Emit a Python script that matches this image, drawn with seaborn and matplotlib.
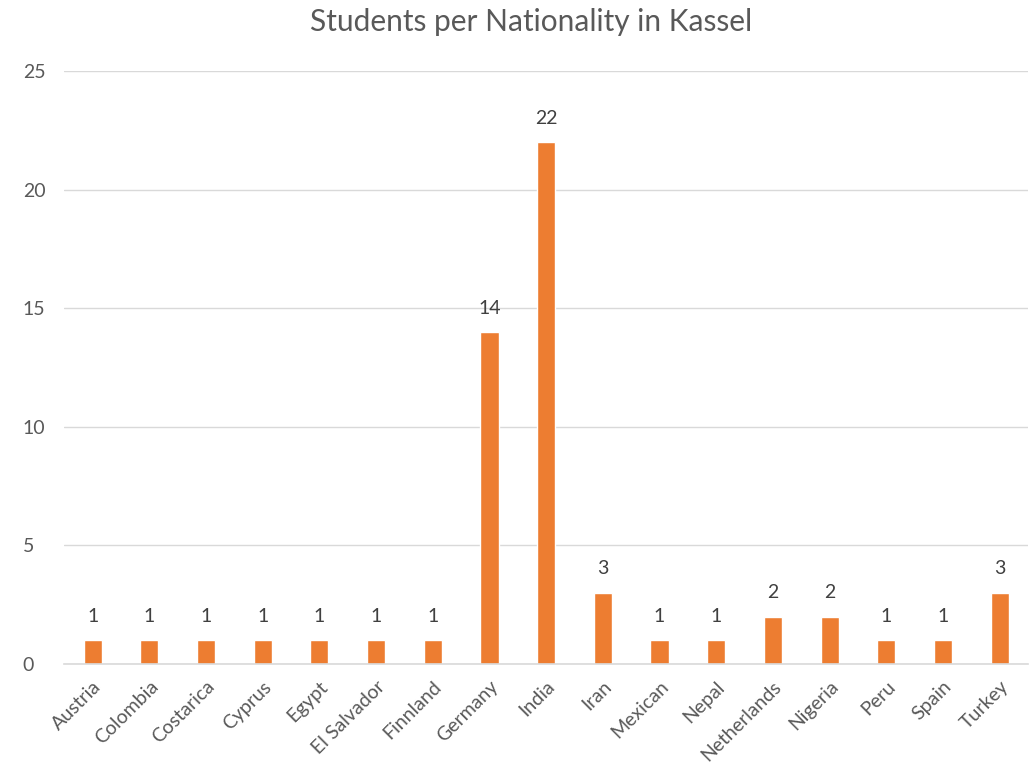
import matplotlib
matplotlib.use("Agg")
import matplotlib.pyplot as plt
import seaborn as sns
import pandas as pd
import numpy as np

countries = ["Austria", "Colombia", "Costarica", "Cyprus", "Egypt", "El Salvador",
             "Finnland", "Germany", "India", "Iran", "Mexican", "Nepal",
             "Netherlands", "Nigeria", "Peru", "Spain", "Turkey"]
students = [1, 1, 1, 1, 1, 1, 1, 14, 22, 3, 1, 1, 2, 2, 1, 1, 3]

df = pd.DataFrame({"country": countries, "students": students})

sns.set_style("white")
plt.rcParams['font.family'] = ['Lato', 'DejaVu Sans']
text_color = "#595959"
grid_color = "#d9d9d9"

fig = plt.figure(figsize=(10.29, 7.65), dpi=100)
ax = fig.add_axes([0.0625, 0.132, 0.9365, 0.775])

sns.barplot(data=df, x="country", y="students", color="#ED7D31",
            width=0.32, saturation=1, ax=ax)

for i, v in enumerate(students):
    ax.text(i, v + 0.65, str(v), ha="center", va="bottom",
            fontsize=14, color="#404040")

ax.set_ylim(0, 25)
ax.set_xlim(-0.5, len(countries) - 0.5)
ax.set_yticks(range(0, 26, 5))
ax.yaxis.grid(True, color=grid_color, linewidth=1)
ax.set_axisbelow(True)

for s in ["top", "right", "left"]:
    ax.spines[s].set_visible(False)
ax.spines["bottom"].set_color(grid_color)
ax.spines["bottom"].set_linewidth(1.2)

ax.set_xticks(np.arange(len(countries)))
ax.set_xticklabels(countries, rotation=45, ha="right", rotation_mode="anchor",
                   fontsize=14, color=text_color)
ax.set_xticks(np.arange(-0.5, len(countries)), minor=True)
ax.tick_params(axis="x", which="major", length=0, pad=10)
ax.tick_params(axis="x", which="minor", length=6, color=grid_color, width=1.2)
ax.tick_params(axis="y", length=0, labelsize=14, labelcolor=text_color, pad=30)
for lab in ax.get_yticklabels():
    lab.set_ha("left")

ax.set_xlabel("")
ax.set_ylabel("")
fig.suptitle("Students per Nationality in Kassel", fontsize=21.5, color=text_color,
             x=0.516, y=0.99, va="top")

fig.savefig("out.png", dpi=100)
